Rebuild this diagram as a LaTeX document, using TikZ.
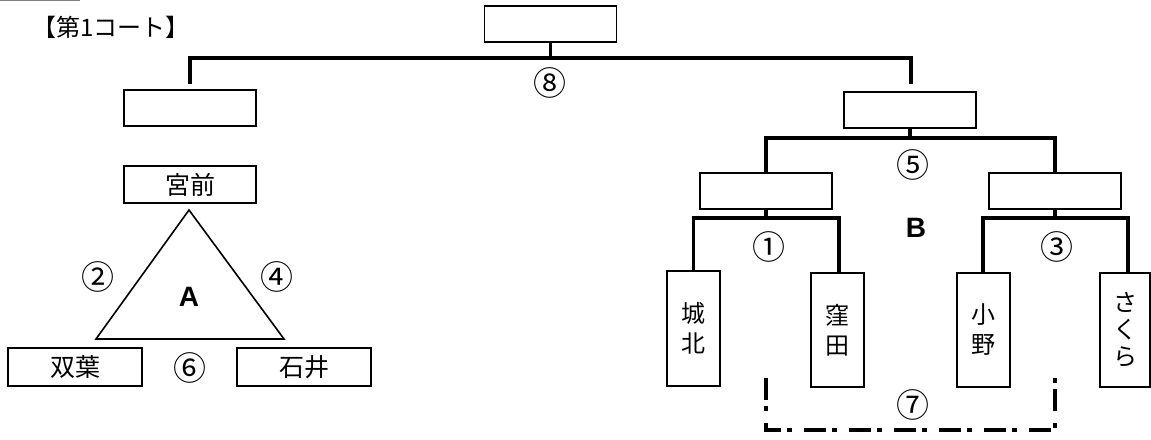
\documentclass[tikz,border=0pt]{standalone}
\usepackage{fontspec}
\setmainfont{Noto Sans CJK JP}
\newfontfamily\latinb{Liberation Sans}
\begin{document}
\begin{tikzpicture}[x=1pt,y=-1pt,
  box/.style={draw,line width=1.6pt,rectangle,inner sep=0pt,font=\fontsize{25}{27}\selectfont},
  hbox/.style={box,minimum width=132pt,minimum height=36pt},
  vbox/.style={box,minimum width=53pt,minimum height=114pt,align=center,font=\fontsize{24}{30}\selectfont},
  bracket/.style={line width=3.2pt},
  num/.style={inner sep=0pt,font=\fontsize{33}{35}\selectfont},
  big/.style={inner sep=0pt,font=\latinb\bfseries\fontsize{28}{30}\selectfont},
  dashdot/.style={line width=3.2pt,dash pattern=on 22pt off 6pt on 5pt off 12pt,dash phase=0pt}]
\useasboundingbox (0,0) rectangle (1151,439);
\draw[gray,line width=1pt] (0,0.5) -- (80,0.5);
\node[anchor=west,inner sep=0pt,font=\fontsize{24}{26}\selectfont] (title) at (32,27) {【第1コート】};
% boxes
\node[hbox] (top) at (550.5,24) {};
\node[hbox] (L2) at (190,108) {};
\node[hbox] (R2) at (910,110) {};
\node[hbox] (B1) at (766,191) {};
\node[hbox] (B2) at (1055,191) {};
\node[hbox,minimum height=37pt] (MM) at (190,184.5) {宮前};
\node[hbox,minimum width=134pt,minimum height=38pt] (FT) at (75,367) {双葉};
\node[hbox,minimum width=134pt,minimum height=38pt] (IS) at (304,367) {石井};
\node[vbox,minimum height=115pt] (JH) at (693.5,328.5) {城\\北};
\node[vbox] (KB) at (837.5,330) {窪\\田};
\node[vbox] (ON) at (983.5,330) {小\\野};
\node[vbox,minimum width=50pt,font=\fontsize{24}{27}\selectfont] (SK) at (1125,330) {さ\\く\\ら};
% junctions
\coordinate (j8) at (550.5,58);
\coordinate (j5) at (910,138);
\coordinate (j1) at (766,218);
\coordinate (j3) at (1055,218);
% bracket lines
\draw[bracket] (top.south) -- (j8);
\draw[bracket] ([yshift=5pt]L2.north) |- (j8) -| ([yshift=7pt,xshift=1pt]R2.north);
\draw[bracket] (R2.south) -- (j5);
\draw[bracket] (B1.north) |- (j5) -| (B2.north);
\draw[bracket] (B1.south) -- (j1);
\draw[bracket] (JH.north) |- (j1) -| ([xshift=1.5pt]KB.north);
\draw[bracket] (B2.south) -- (j3);
\draw[bracket] ([xshift=-0.5pt]ON.north) |- (j3) -| ([xshift=3pt]SK.north);
% dash-dot bracket
\coordinate (d1) at (766,378);
\coordinate (d2) at (1055,378);
\coordinate (d7) at (910,430);
\draw[dashdot] (d1) |- (d7) -| (d2);
% triangle
\coordinate (ta) at (189,210);
\coordinate (tl) at (96,339);
\coordinate (tr) at (284,339);
\draw[line width=1.6pt,line join=miter] (ta) -- (tl) -- (tr) -- cycle;
% labels
\node[big] (A) at (189,297) {A};
\node[big] (B) at (916,228) {B};
\node[num] (n8) at (550,83) {⑧};
\node[num] (n5) at (913,165) {⑤};
\node[num] (n1) at (769,247) {①};
\node[num] (n3) at (1057,247) {③};
\node[num] (n7) at (913,405) {⑦};
\node[num] (n2) at (98,277) {②};
\node[num] (n4) at (277,277) {④};
\node[num] (n6) at (190,368) {⑥};
\end{tikzpicture}
\end{document}
